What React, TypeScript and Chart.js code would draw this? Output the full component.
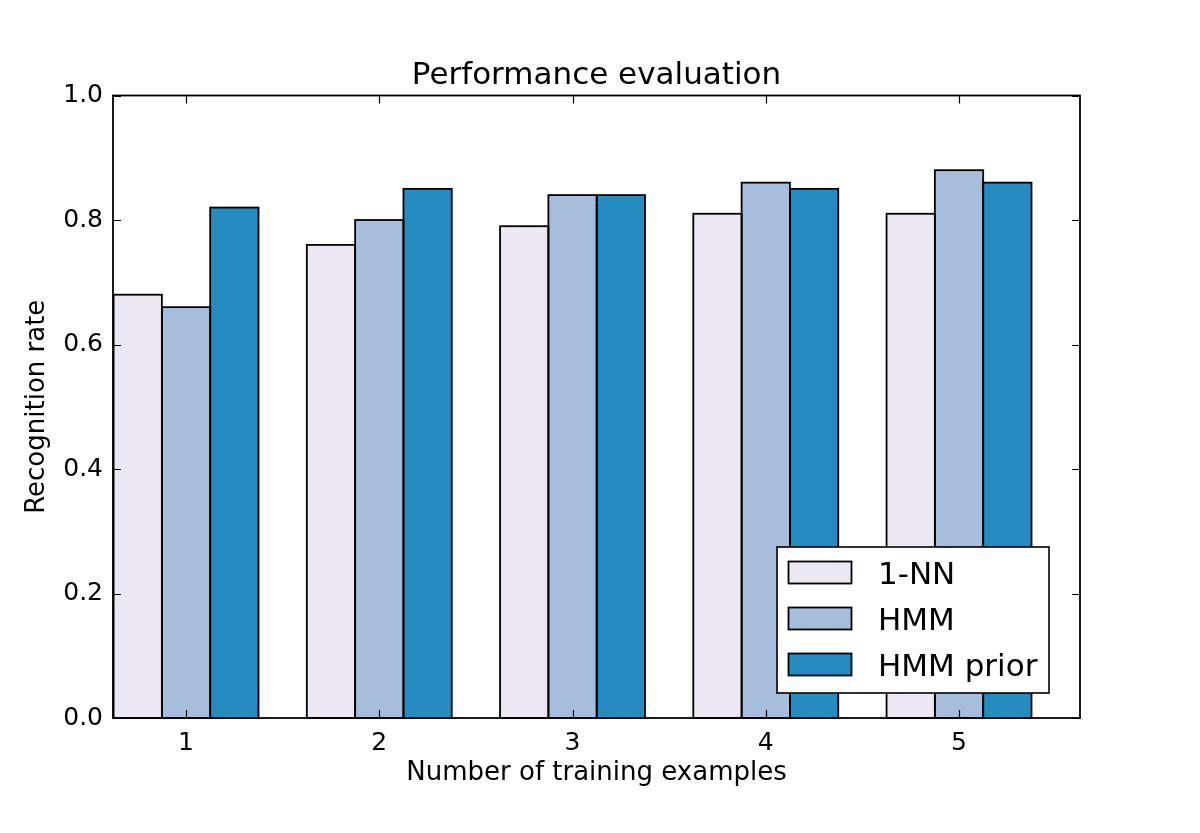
import React, { useEffect, useRef } from 'react';
import { Chart, registerables } from 'chart.js';

Chart.register(...registerables);

const categories = [1, 2, 3, 4, 5];
const seriesNames = ['1-NN', 'HMM', 'HMM prior'];
const nnValues = [0.68, 0.76, 0.79, 0.81, 0.81];
const hmmValues = [0.66, 0.8, 0.84, 0.86, 0.88];
const hmmPriorValues = [0.82, 0.85, 0.84, 0.85, 0.86];
const seriesColors = ['#ece7f2', '#a6bddb', '#268bc0'];
const yTickValues = [0, 0.2, 0.4, 0.6, 0.8, 1.0];
const chartTitle = 'Performance evaluation';

const FONT = 'DejaVu Sans';

const framePlugin = {
  id: 'mplFrame',
  afterDatasetsDraw(chart: any) {
    const { ctx } = chart;
    ctx.save();
    ctx.strokeStyle = '#000';
    ctx.lineWidth = 1.8;
    chart.data.datasets.forEach((_: any, di: number) => {
      const meta = chart.getDatasetMeta(di);
      meta.data.forEach((el: any) => {
        const { x, y, base, width } = el.getProps(['x', 'y', 'base', 'width'], true);
        ctx.strokeRect(x - width / 2, y, width, base - y);
      });
    });
    ctx.restore();
  },
  afterDraw(chart: any) {
    const { ctx, chartArea: ca, scales } = chart;
    const xs = scales.x;
    const ys = scales.y;
    ctx.save();
    // title centred over the axes
    ctx.fillStyle = '#000';
    ctx.font = `31px "${FONT}"`;
    ctx.textAlign = 'center';
    ctx.textBaseline = 'alphabetic';
    ctx.fillText(chartTitle, (ca.left + ca.right) / 2, ca.top - 11.5);

    ctx.strokeStyle = '#000';
    ctx.lineWidth = 1.2;
    const tl = 8;
    ctx.beginPath();
    yTickValues.forEach((v) => {
      const py = Math.round(ys.getPixelForValue(v)) + 0.5;
      ctx.moveTo(ca.left, py);
      ctx.lineTo(ca.left + tl, py);
      ctx.moveTo(ca.right, py);
      ctx.lineTo(ca.right - tl, py);
    });
    categories.forEach((c) => {
      const px = Math.round(xs.getPixelForValue(c)) + 0.5;
      ctx.moveTo(px, ca.bottom);
      ctx.lineTo(px, ca.bottom - tl);
      ctx.moveTo(px, ca.top);
      ctx.lineTo(px, ca.top + tl);
    });
    ctx.stroke();
    ctx.lineWidth = 1.8;
    ctx.strokeRect(ca.left, ca.top, ca.right - ca.left, ca.bottom - ca.top);

    // legend (lower right)
    const bw = 272;
    const bh = 146;
    const bx = ca.right - 31 - bw;
    const by = ca.bottom - 25 - bh;
    ctx.fillStyle = '#fff';
    ctx.fillRect(bx, by, bw, bh);
    ctx.lineWidth = 1.6;
    ctx.strokeRect(bx, by, bw, bh);
    ctx.font = `31px "${FONT}"`;
    ctx.textAlign = 'left';
    ctx.textBaseline = 'alphabetic';
    seriesNames.forEach((name, i) => {
      const cy = by + 25.5 + i * 46;
      ctx.fillStyle = seriesColors[i];
      ctx.fillRect(bx + 11.5, cy - 11, 63, 22);
      ctx.lineWidth = 1.8;
      ctx.strokeStyle = '#000';
      ctx.strokeRect(bx + 11.5, cy - 11, 63, 22);
      ctx.fillStyle = '#000';
      ctx.fillText(name, bx + 101, cy + 11);
    });
    ctx.restore();
  },
};

export default function App() {
  const canvasRef = useRef<HTMLCanvasElement | null>(null);

  useEffect(() => {
    document.body.style.margin = '0';
    const canvas = canvasRef.current;
    if (!canvas) return;
    const allSeries = [nnValues, hmmValues, hmmPriorValues];
    const chart = new Chart(canvas, {
      type: 'bar',
      data: {
        datasets: allSeries.map((vals, i) => ({
          label: seriesNames[i],
          data: categories.map((c, j) => ({ x: c, y: vals[j] })),
          backgroundColor: seriesColors[i],
          borderWidth: 0,
          categoryPercentage: 0.75,
          barPercentage: 1.0,
        })),
      },
      options: {
        responsive: false,
        animation: false,
        devicePixelRatio: 1,
        layout: { padding: { left: 0, right: 120, top: 95.5, bottom: 0 } },
        plugins: {
          legend: { display: false },
          tooltip: { enabled: false },
          title: { display: false },
        },
        scales: {
          x: {
            type: 'linear',
            min: 0.622,
            max: 5.626,
            offset: false,
            grid: { display: false, drawTicks: false, offset: false },
            border: { display: false },
            afterBuildTicks: (scale: any) => {
              scale.ticks = categories.map((v) => ({ value: v }));
            },
            afterFit: (scale: any) => {
              scale.height = 115;
            },
            ticks: {
              color: '#000',
              font: { family: FONT, size: 25 },
              padding: 10,
              maxRotation: 0,
              callback: (v: any) => String(v),
            },
            title: {
              display: true,
              text: 'Number of training examples',
              color: '#000',
              font: { family: FONT, size: 26 },
              padding: { top: 0, bottom: 44 },
            },
          },
          y: {
            min: 0,
            max: 1,
            grid: { display: false, drawTicks: false },
            border: { display: false },
            afterBuildTicks: (scale: any) => {
              scale.ticks = yTickValues.map((v) => ({ value: v }));
            },
            afterFit: (scale: any) => {
              scale.width = 113;
            },
            ticks: {
              color: '#000',
              font: { family: FONT, size: 25 },
              padding: 10,
              callback: (v: any) => Number(v).toFixed(1),
            },
            title: {
              display: true,
              text: 'Recognition rate',
              color: '#000',
              font: { family: FONT, size: 26 },
              padding: { top: 22, bottom: 0 },
            },
          },
        },
      },
      plugins: [framePlugin],
    });
    return () => chart.destroy();
  }, []);

  return (
    <div style={{ width: 1200, height: 833, background: '#fff' }}>
      <canvas ref={canvasRef} width={1200} height={833} style={{ display: 'block' }} />
    </div>
  );
}
